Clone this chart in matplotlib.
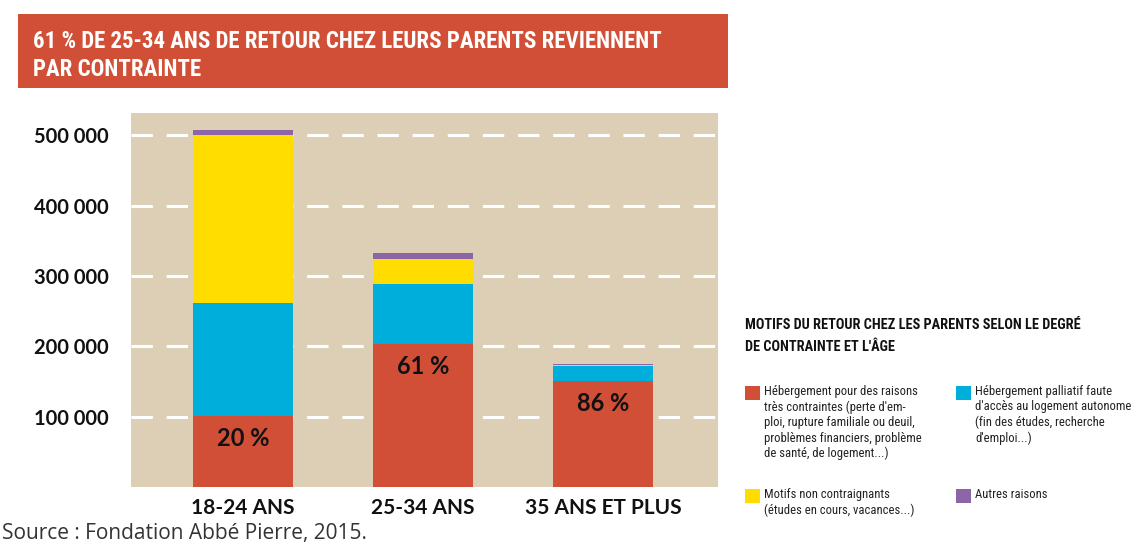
import matplotlib
matplotlib.use("Agg")
import matplotlib.pyplot as plt
from matplotlib.patches import Rectangle
import numpy as np

categories = ["18-24 ANS", "25-34 ANS", "35 ANS ET PLUS"]
contraintes = [101000, 203000, 151000]
palliatif = [161000, 86000, 21500]
non_contraignants = [238000, 36000, 1500]
autres = [8500, 8500, 1000]
shares = ["20 %", "61 %", "86 %"]
yticks = [100000, 200000, 300000, 400000, 500000]
ytick_labels = ["100 000", "200 000", "300 000", "400 000", "500 000"]

series_labels = [
    "Hébergement pour des raisons\ntrès contraintes (perte d'em-\nploi, rupture familiale ou deuil,\nproblèmes financiers, problème\nde santé, de logement...)",
    "Hébergement palliatif faute\nd'accès au logement autonome\n(fin des études, recherche\nd'emploi...)",
    "Motifs non contraignants\n(études en cours, vacances...)",
    "Autres raisons",
]

red = "#D04F36"
blue = "#00AEDC"
yellow = "#FFDD00"
purple = "#8C65A6"
tan = "#DCCFB6"

narrow = ["Roboto Condensed", "DejaVu Sans"]

W, H = 1134, 547
fig = plt.figure(figsize=(W / 100, H / 100), dpi=100)
fig.patch.set_facecolor("white")
renderer = fig.canvas.get_renderer()


def fit(t, target_px):
    # shrink a text until its width is at most target_px
    w = t.get_window_extent(renderer).width
    if w > target_px:
        t.set_fontsize(t.get_fontsize() * target_px / w)


def ftext(px, py, s, **kw):
    return fig.text(px / W, 1 - py / H, s, family=narrow, fontstretch="condensed", **kw)


# title bar
fig.patches.append(Rectangle((18 / W, 1 - 88 / H), 710 / W, 74 / H,
                             transform=fig.transFigure, facecolor=red,
                             edgecolor="none", zorder=0))
t1 = ftext(33, 41, "61 % DE 25-34 ANS DE RETOUR CHEZ LEURS PARENTS REVIENNENT",
           color="white", fontsize=17, fontweight="bold", va="center")
fit(t1, 632)
ftext(33, 69, "PAR CONTRAINTE", color="white", fontsize=t1.get_fontsize(),
      fontweight="bold", va="center")

ax = fig.add_axes([131 / W, 60 / H, 587 / W, 374 / H])
ax.set_facecolor(tan)
x = np.arange(len(categories))
w = 0.555

ax.bar(x, contraintes, w, color=red, zorder=2)
b1 = np.array(contraintes)
ax.bar(x, palliatif, w, bottom=b1, color=blue, zorder=2)
b2 = b1 + np.array(palliatif)
ax.bar(x, non_contraignants, w, bottom=b2, color=yellow, zorder=2)
b3 = b2 + np.array(non_contraignants)
ax.bar(x, autres, w, bottom=b3, color=purple, zorder=2)

for xi, top, s in zip(x, contraintes, shares):
    ax.text(xi, top - 32000, s, ha="center", va="center", fontsize=17,
            fontweight="bold", family="Lato", color="#111111", zorder=3)

ax.set_xlim(-0.622, 2.64)
ax.set_ylim(0, 532000)
ax.set_yticks(yticks)
ax.set_yticklabels(ytick_labels, family="Lato", fontweight="bold", fontsize=14.5, color="#111111")
ax.set_xticks(x)
ax.set_xticklabels(categories, family="Lato", fontweight="bold", fontsize=15, color="#111111")
ax.tick_params(axis="y", length=0, pad=16)
ax.tick_params(axis="x", length=0, pad=8)
for sp in ax.spines.values():
    sp.set_visible(False)
ax.grid(axis="y", color="white", linestyle=(0, (7, 4.5)), linewidth=2.2, zorder=1)
ax.set_axisbelow(True)

# legend
lt1 = ftext(745, 325, "MOTIFS DU RETOUR CHEZ LES PARENTS SELON LE DEGRÉ",
            fontsize=11.5, fontweight="bold", color="#111111", va="center")
fit(lt1, 334)
ftext(745, 347, "DE CONTRAINTE ET L'ÂGE", fontsize=lt1.get_fontsize(), fontweight="bold",
      color="#111111", va="center")

legend_pos = [(745, 386), (956, 386), (745, 489), (956, 489)]
colors = [red, blue, yellow, purple]
body = []
for (lx, ly), c, lab in zip(legend_pos, colors, series_labels):
    fig.patches.append(Rectangle((lx / W, 1 - (ly + 14) / H), 15 / W, 14 / H,
                                 transform=fig.transFigure, facecolor=c, edgecolor="none"))
    body.append(ftext(lx + 19, ly - 1, lab, fontsize=10.5, color="#222222", va="top"))
fit(body[1], 157)
for t in body:
    t.set_fontsize(min(t.get_fontsize(), body[1].get_fontsize()))
    # keep the reference line pitch of about 18 px
    t.set_linespacing(18.3 / (t.get_fontsize() * 100 / 72 * 1.17))

fig.text(2 / W, 1 - 534 / H, "Source : Fondation Abbé Pierre, 2015.",
         fontsize=15, family="Open Sans", color="#333333", va="center")

fig.savefig("out.png", dpi=100, facecolor="white")
